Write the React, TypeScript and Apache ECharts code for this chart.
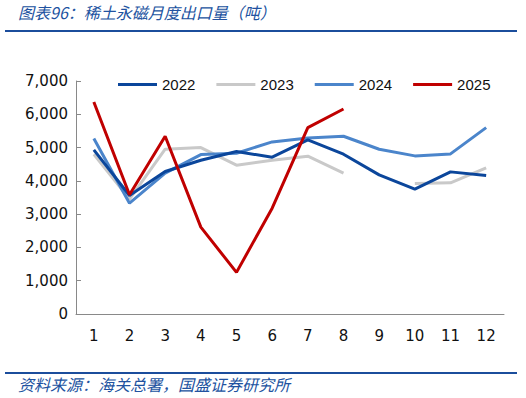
import React, { useEffect, useRef } from "react";
import * as echarts from "echarts";

const months = ["1", "2", "3", "4", "5", "6", "7", "8", "9", "10", "11", "12"];
const years = ["2022", "2023", "2024", "2025"];
const s2022 = [4930, 3560, 4280, 4620, 4880, 4710, 5230, 4800, 4180, 3750, 4270, 4160];
const s2023 = [4800, 3450, 4950, 5000, 4470, 4620, 4740, 4230, null, 3920, 3940, 4390];
const s2024 = [5270, 3330, 4230, 4790, 4830, 5170, 5290, 5340, 4950, 4750, 4810, 5600];
const s2025 = [6370, 3580, 5340, 2610, 1250, 3180, 5600, 6160];
const colors = ["#0B469B", "#C9C9C9", "#4B85CB", "#C00000"];
const yTicks = [0, 7000, 1000];
const titleText = "图表96：稀土永磁月度出口量（吨）";
const sourceText = "资料来源：海关总署，国盛证券研究所";

export default function App() {
  const ref = useRef<HTMLDivElement>(null);
  useEffect(() => {
    if (!ref.current) return;
    const chart = echarts.init(ref.current, null, { renderer: "svg" });
    const seriesData = [s2022, s2023, s2024, s2025];
    chart.setOption({
      animation: false,
      backgroundColor: "#ffffff",
      grid: { left: 76, right: 22, top: 81, bottom: 84, containLabel: false },
      legend: {
        data: years.map((y) => ({ name: y, icon: "rect" })),
        left: 113,
        top: 72,
        itemWidth: 39,
        itemHeight: 3,
        itemGap: 21,
        textStyle: { fontFamily: "Liberation Sans", fontSize: 15, color: "#111" },
      },
      xAxis: {
        type: "category",
        data: months,
        boundaryGap: true,
        axisLine: { lineStyle: { color: "#898989", width: 1 } },
        axisTick: { inside: true, length: 5, alignWithLabel: false, lineStyle: { color: "#898989" } },
        axisLabel: { fontFamily: "DejaVu Sans", fontSize: 15, color: "#111", margin: 14 },
        splitLine: { show: false },
      },
      yAxis: {
        type: "value",
        min: yTicks[0],
        max: yTicks[1],
        interval: yTicks[2],
        axisLine: { show: true, lineStyle: { color: "#898989", width: 1 } },
        axisTick: { show: true, inside: true, length: 5, lineStyle: { color: "#898989" } },
        axisLabel: {
          fontFamily: "DejaVu Sans",
          fontSize: 15,
          color: "#111",
          margin: 8,
          formatter: (v: number) => v.toLocaleString("en-US"),
        },
        splitLine: { show: false },
      },
      series: years.map((y, i) => ({
        name: y,
        type: "line",
        data: seriesData[i],
        symbol: "none",
        smooth: false,
        connectNulls: false,
        color: colors[i],
        lineStyle: { width: 3, color: colors[i] },
        z: i === 3 ? 5 : 2 + (i === 0 ? 2 : i === 2 ? 1 : 0),
      })),
      graphic: [
        {
          type: "text",
          left: 18,
          top: 4,
          style: {
            text: titleText,
            fontFamily: "Noto Sans CJK SC",
            fontStyle: "italic",
            fontSize: 16,
            fill: "#2152A0",
          },
        },
        {
          type: "rect",
          shape: { x: 5, y: 30, width: 512, height: 2 },
          style: { fill: "#1B4D9C" },
        },
        {
          type: "rect",
          shape: { x: 5, y: 372, width: 512, height: 2 },
          style: { fill: "#1B4D9C" },
        },
        {
          type: "text",
          left: 18,
          top: 376,
          style: {
            text: sourceText,
            fontFamily: "Noto Sans CJK SC",
            fontStyle: "italic",
            fontSize: 16,
            fill: "#2152A0",
          },
        },
      ],
    });
    return () => chart.dispose();
  }, []);
  return (
    <div
      ref={ref}
      style={{ position: "absolute", left: 0, top: 0, width: 526, height: 398 }}
    />
  );
}
